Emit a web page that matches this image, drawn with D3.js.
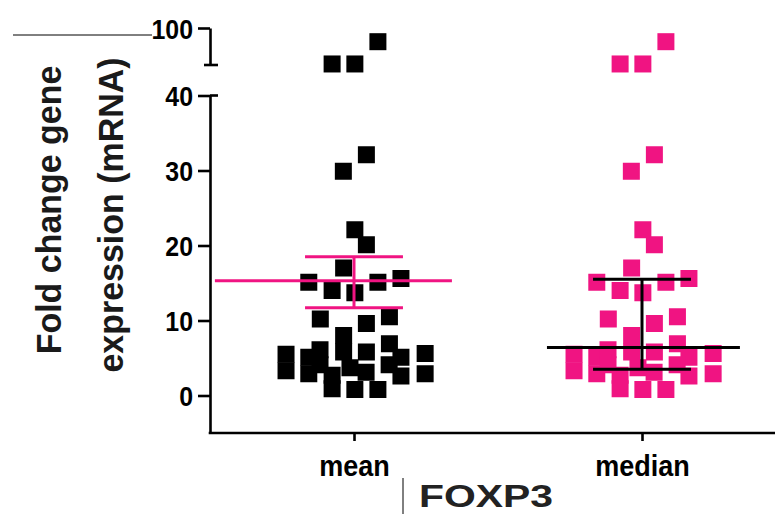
<!DOCTYPE html>
<html>
<head>
<meta charset="utf-8">
<script src="https://cdn.jsdelivr.net/npm/d3@7"></script>
<style>
  html, body { margin: 0; padding: 0; background: #fff; }
  svg { display: block; font-family: "Liberation Sans", Arial, sans-serif; }
</style>
</head>
<body>
<svg id="chart" width="775" height="514"></svg>
<script>
// categorias y valores
const categories = ['mean', 'median'];
const lowerTicks = [0, 10, 20, 30, 40];
const upperTicks = [100];

// fold change de cada muestra (mismos datos en los dos grupos)
const foldChange = [81.5, 51.4, 51.4,
  32.1, 29.9, 22.1, 20.1, 17.0, 15.1, 15.1, 15.6, 14.0, 13.7,
  10.2, 9.6, 10.5, 8.0, 5.5, 3.3, 5.1, 2.9, 6.1, 5.8, 2.7, 0.9,
  0.8, 0.8, 5.8, 6.9, 5.1, 2.6, 5.6, 2.9, 3.1, 3.7, 4.1, 4.1];
// desplazamiento horizontal (en unidades de categoria)
const jitter = [0.083, -0.076, 0.003,
  0.043, -0.037, 0.003, 0.043, -0.036, -0.157, 0.083, 0.163, -0.076, 0.003,
  -0.117, 0.043, 0.123, -0.036, -0.236, -0.236, -0.157, -0.157, -0.118, -0.036, -0.076, -0.076,
  0.003, 0.083, 0.043, 0.123, 0.163, 0.163, 0.247, 0.247, 0.042, -0.014, -0.118, 0.122];

// resumenes dibujados: media +/- SEM y mediana con rango intercuartil
const centerValue = [15.3, 6.4];
const barHigh = [18.5, 15.5];
const barLow = [11.7, 3.5];

const colors = ['#000000', '#f01482'];
const lineColors = ['#f01482', '#000000'];

const svg = d3.select('#chart');

const x = d3.scaleLinear().domain([-0.5, 1.5]).range([210, 786]);
const yLow = d3.scaleLinear().domain([-5, 40]).range([433, 95.5]);
const yUp = d3.scaleLinear().domain([50, 100]).range([65, 28]);
const y = v => v > 45 ? yUp(v) : yLow(v);

// comprimir texto en horizontal como en la imagen original
function squeeze(sel, k) {
  sel.each(function () {
    const w = this.getComputedTextLength();
    d3.select(this).attr('textLength', w * k).attr('lengthAdjust', 'spacingAndGlyphs');
  });
}

// eje Y inferior
const axLow = svg.append('g').attr('transform', 'translate(210,0)')
  .call(d3.axisLeft(yLow).tickValues(lowerTicks).tickSize(12).tickSizeOuter(0).tickPadding(5));
// eje Y superior
const axUp = svg.append('g').attr('transform', 'translate(210,0)')
  .call(d3.axisLeft(yUp).tickValues(upperTicks).tickSize(12).tickSizeOuter(0).tickPadding(5));

[axLow, axUp].forEach(ax => {
  ax.selectAll('path, line').attr('stroke', '#000').attr('stroke-width', 2.6);
  ax.selectAll('text').attr('font-size', 28).attr('font-weight', 'bold').attr('fill', '#000')
    .attr('dy', '0.36em').call(squeeze, 0.89);
});

// marcas de corte del eje
svg.append('line').attr('x1', 204).attr('x2', 218).attr('y1', yUp(50)).attr('y2', yUp(50))
  .attr('stroke', '#000').attr('stroke-width', 2.6);
svg.append('line').attr('x1', 210).attr('x2', 218).attr('y1', yLow(40)).attr('y2', yLow(40))
  .attr('stroke', '#000').attr('stroke-width', 2.6);

// eje X
const axX = svg.append('g').attr('transform', `translate(0,${yLow(-5)})`)
  .call(d3.axisBottom(x).tickValues([0, 1]).tickFormat(i => categories[i]).tickSize(8).tickSizeOuter(0).tickPadding(14));
axX.selectAll('path, line').attr('stroke', '#000').attr('stroke-width', 2.6);
axX.select('.domain').attr('d', `M${x(-0.5) - 1.3},0H${x(1.5)}`);
axX.selectAll('text').attr('font-size', 30).attr('font-weight', 'bold').attr('fill', '#000')
  .attr('dy', '0.71em').call(squeeze, 0.9);

// puntos
const size = 17;
categories.forEach((c, gi) => {
  svg.append('g').selectAll('rect').data(foldChange).enter().append('rect')
    .attr('x', (d, i) => x(gi + jitter[i]) - size / 2)
    .attr('y', d => y(d) - size / 2)
    .attr('width', size).attr('height', size)
    .attr('fill', colors[gi]);
});

// lineas de resumen
const lineW = [[-0.483, 0.34], [-0.33, 0.34]];
const capW = 0.17;
categories.forEach((c, gi) => {
  const g = svg.append('g').attr('stroke', lineColors[gi]).attr('stroke-width', 3);
  g.append('line').attr('x1', x(gi + lineW[gi][0])).attr('x2', x(gi + lineW[gi][1]))
    .attr('y1', yLow(centerValue[gi])).attr('y2', yLow(centerValue[gi]));
  g.append('line').attr('x1', x(gi)).attr('x2', x(gi))
    .attr('y1', yLow(barHigh[gi])).attr('y2', yLow(barLow[gi]));
  [barHigh[gi], barLow[gi]].forEach(v => {
    g.append('line').attr('x1', x(gi - capW)).attr('x2', x(gi + capW))
      .attr('y1', yLow(v)).attr('y2', yLow(v));
  });
});

// titulo del eje Y
const titleLines = ['Fold change gene', 'expression (mRNA)'];
const titlePos = [[61, 210], [123, 215]];
titleLines.forEach((t, i) => {
  svg.append('text')
    .attr('transform', `translate(${titlePos[i][0]},${titlePos[i][1]}) rotate(-90)`)
    .attr('text-anchor', 'middle').attr('font-size', 35).attr('font-weight', 'bold').attr('fill', '#1a1a1a')
    .text(t).call(squeeze, 0.97);
});

// etiqueta FOXP3 y lineas sueltas
svg.append('text').attr('x', 419).attr('y', 507).attr('font-size', 32).attr('font-weight', 'bold')
  .attr('fill', '#222').text('FOXP3')
  .attr('textLength', 134).attr('lengthAdjust', 'spacingAndGlyphs');
svg.append('line').attr('x1', 403).attr('x2', 403).attr('y1', 478).attr('y2', 514)
  .attr('stroke', '#000').attr('stroke-width', 1);
svg.append('line').attr('x1', 13).attr('x2', 152).attr('y1', 35).attr('y2', 35)
  .attr('stroke', '#000').attr('stroke-width', 1);
</script>
</body>
</html>
